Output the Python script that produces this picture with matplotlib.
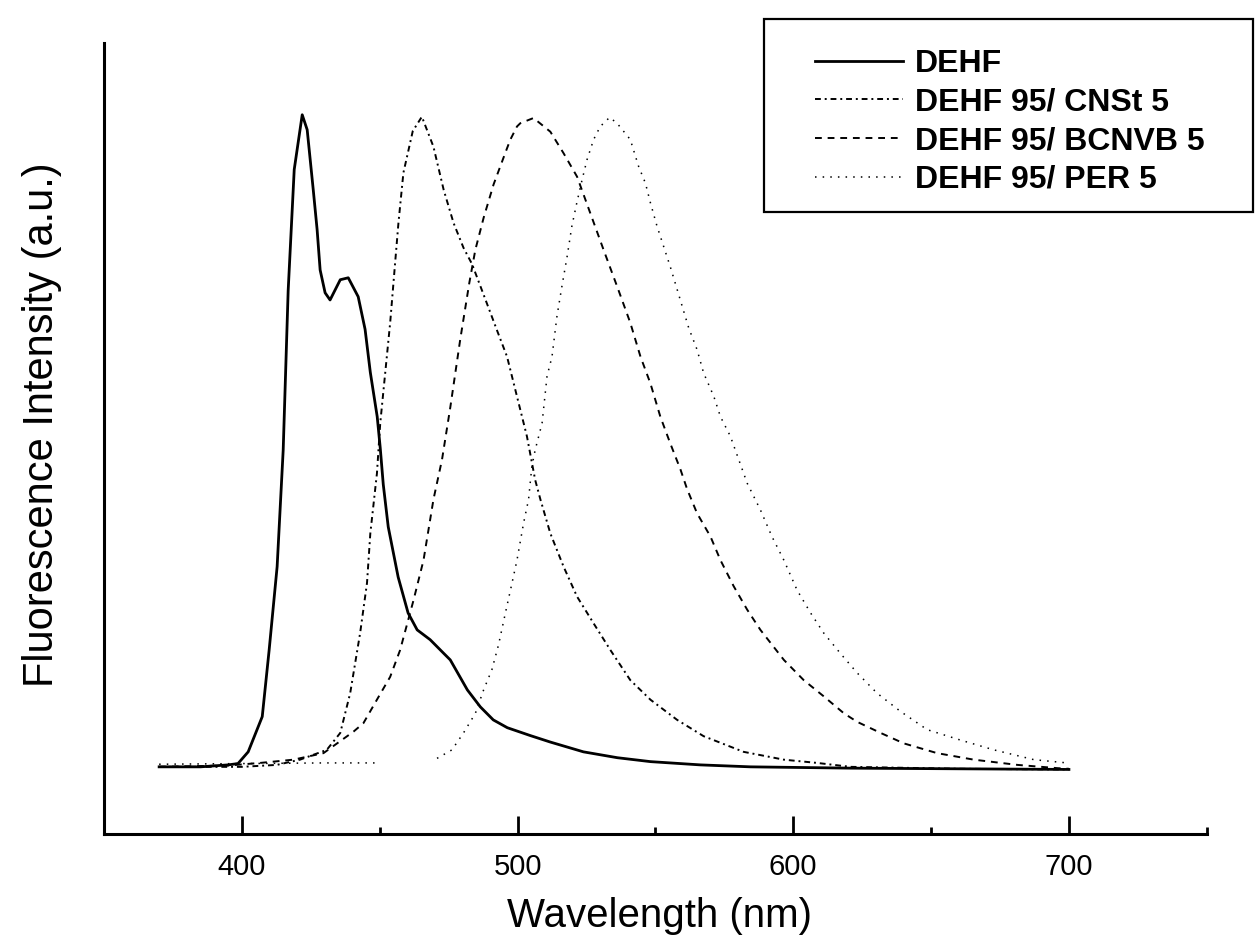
import matplotlib
matplotlib.use('Agg')

import matplotlib.pyplot as plt
import numpy as np
from matplotlib.patches import Rectangle

plt.rcParams['font.family'] = ['Liberation Sans', 'DejaVu Sans']

# emission spectra, intensity normalised to the main peak
wl_dehf = [370, 385, 395, 398.6, 402.3, 407.4, 409.9, 412.8, 415.0, 416.8, 419.0,
           421.9, 423.7, 425.9, 427.3, 428.4, 430.2, 432.0, 435.7, 438.6, 442.2,
           444.7, 446.6, 449.1, 450.2, 451.3, 453.1, 456.7, 460.3, 463.6, 468.3,
           473.0, 475.6, 481.8, 486.5, 491.2, 496.3, 504.6, 511.9, 523.9, 536.2,
           548.2, 566.3, 584.5, 620.8, 660, 700]
int_dehf = [0.0, 0.0, 0.003, 0.005, 0.023, 0.077, 0.179, 0.307, 0.486, 0.730, 0.916,
            1.0, 0.977, 0.885, 0.824, 0.762, 0.727, 0.716, 0.747, 0.750, 0.721,
            0.671, 0.605, 0.537, 0.489, 0.433, 0.368, 0.291, 0.236, 0.210, 0.195,
            0.175, 0.164, 0.118, 0.092, 0.072, 0.060, 0.048, 0.038, 0.023, 0.014,
            0.008, 0.003, 0.0, -0.002, -0.003, -0.004]

wl_cnst = [370, 400, 412.7, 421.1, 430.8, 435.7, 439.3, 442.9, 445.4, 446.6, 449.0,
           450.2, 452.0, 453.8, 455.6, 456.8, 458.6, 462.0, 465.3, 469.5, 473.2,
           476.8, 480.4, 483.5, 487.7, 492.5, 496.2, 499.8, 503.4, 506.4, 508.3,
           511.9, 516.7, 521.6, 527.6, 533.7, 540.9, 548.2, 557.9, 567.5, 582.0,
           596.6, 608.7, 620.8, 660, 700]
int_cnst = [0.0, 0.0, 0.003, 0.011, 0.026, 0.052, 0.113, 0.205, 0.282, 0.358, 0.450,
            0.527, 0.604, 0.681, 0.773, 0.834, 0.911, 0.975, 0.997, 0.951, 0.885,
            0.834, 0.796, 0.771, 0.724, 0.670, 0.629, 0.568, 0.507, 0.440, 0.410,
            0.358, 0.307, 0.261, 0.220, 0.179, 0.133, 0.103, 0.072, 0.047, 0.023,
            0.011, 0.006, 0.0, -0.003, -0.004]

wl_bcnvb = [370, 395, 406.6, 418.7, 429.6, 440.5, 444.1, 449.0, 453.8, 457.4, 462.3,
            465.9, 469.5, 472.6, 475.6, 479.2, 482.5, 484.7, 487.7, 491.3, 495.6,
            497.4, 499.8, 501.0, 505.8, 511.9, 516.7, 521.6, 526.4, 531.2, 536.1,
            540.9, 544.6, 548.2, 551.8, 555.4, 559.1, 561.5, 565.1, 570.0, 573.6,
            578.4, 583.3, 588.1, 596.6, 603.8, 611.1, 618.4, 623.2, 631.7, 640.1,
            652.2, 665.5, 681.3, 695.8, 700]
int_bcnvb = [0.0, 0.002, 0.006, 0.011, 0.021, 0.054, 0.067, 0.103, 0.138, 0.179, 0.256,
             0.317, 0.410, 0.471, 0.551, 0.655, 0.742, 0.793, 0.842, 0.893, 0.942,
             0.962, 0.982, 0.987, 0.995, 0.974, 0.941, 0.905, 0.849, 0.793, 0.737,
             0.681, 0.629, 0.588, 0.537, 0.496, 0.456, 0.426, 0.389, 0.353, 0.317,
             0.277, 0.241, 0.210, 0.164, 0.133, 0.108, 0.082, 0.069, 0.052, 0.036,
             0.021, 0.011, 0.003, -0.002, -0.003]

# PER spectrum has a gap between the two scan ranges
wl_per = [370, 400, 430, 450, np.nan,
          470.8, 476.2, 480.4, 484.7, 487.7, 490.7, 493.1, 495.6, 498.0, 499.8,
          502.2, 504.0, 505.2, 506.4, 508.9, 510.7, 512.5, 514.3, 516.1, 518.0,
          519.7, 521.5, 523.4, 525.2, 527.6, 530.0, 533.4, 536.1, 540.9, 543.9,
          546.4, 548.2, 550.6, 553.0, 555.4, 557.9, 562.1, 565.1, 567.5, 571.2,
          573.6, 577.2, 583.3, 588.1, 592.3, 596.6, 601.4, 606.3, 611.1, 617.1,
          623.2, 630.4, 638.9, 648.6, 660.7, 672.8, 687.3, 699.4]
int_per = [0.004, 0.005, 0.006, 0.006, np.nan,
           0.013, 0.026, 0.052, 0.082, 0.118, 0.149, 0.187, 0.236, 0.282, 0.317,
           0.374, 0.410, 0.461, 0.486, 0.527, 0.599, 0.629, 0.691, 0.737, 0.783,
           0.829, 0.865, 0.900, 0.931, 0.962, 0.982, 0.996, 0.987, 0.962, 0.921,
           0.895, 0.865, 0.829, 0.798, 0.767, 0.732, 0.673, 0.640, 0.604, 0.568,
           0.537, 0.507, 0.435, 0.394, 0.353, 0.317, 0.271, 0.236, 0.205, 0.174,
           0.144, 0.113, 0.085, 0.057, 0.041, 0.026, 0.011, 0.006]

labels = ['DEHF', 'DEHF 95/ CNSt 5', 'DEHF 95/ BCNVB 5', 'DEHF 95/ PER 5']

fig = plt.figure(figsize=(12.56, 9.5), dpi=100)
ax = fig.add_axes([0.0828, 0.1221, 0.8780, 0.8326])

ax.plot(wl_dehf, int_dehf, color='k', lw=2.0, ls='-', label=labels[0])
ax.plot(wl_cnst, int_cnst, color='k', lw=1.4, ls=(0, (3, 2, 1, 2)), label=labels[1])
ax.plot(wl_bcnvb, int_bcnvb, color='k', lw=1.4, ls=(0, (3.5, 3)), label=labels[2])
ax.plot(wl_per, int_per, color='k', lw=1.1, ls=(0, (1, 4)), label=labels[3])

ax.set_xlim(350, 750)
ax.set_ylim(-0.103, 1.110)

# axis styling
for s in ['top', 'right']:
    ax.spines[s].set_visible(False)
for s in ['left', 'bottom']:
    ax.spines[s].set_linewidth(2.2)
ax.set_yticks([])
ax.set_xticks([400, 500, 600, 700])
ax.set_xticks([450, 550, 650, 750], minor=True)
ax.tick_params(axis='x', which='major', direction='in', length=13, width=2,
               labelsize=21, pad=14)
ax.tick_params(axis='x', which='minor', direction='in', length=5, width=2)

ax.set_xlabel('Wavelength (nm)', fontsize=29)
ax.xaxis.set_label_coords(0.504, -0.104)
ax.xaxis.label.set_va('center')
ax.set_ylabel('Fluorescence Intensity (a.u.)', fontsize=30)
ax.yaxis.set_label_coords(-0.056, 0.518)
ax.yaxis.label.set_va('center')

ax.legend(loc='upper left', bbox_to_anchor=(815 / 1256, 1 - 49 / 950),
          bbox_transform=fig.transFigure, frameon=False,
          prop={'size': 23, 'weight': 'bold'}, handlelength=2.75,
          handletextpad=0.38, labelspacing=0.27, borderpad=0, borderaxespad=0)

# legend box runs off the right edge
fig.patches.append(Rectangle((764 / 1256, 1 - 212 / 950), (1253 - 764) / 1256,
                             (212 - 19) / 950, transform=fig.transFigure,
                             fill=False, lw=1.6, ec='k'))

fig.savefig('out.png', dpi=100)
